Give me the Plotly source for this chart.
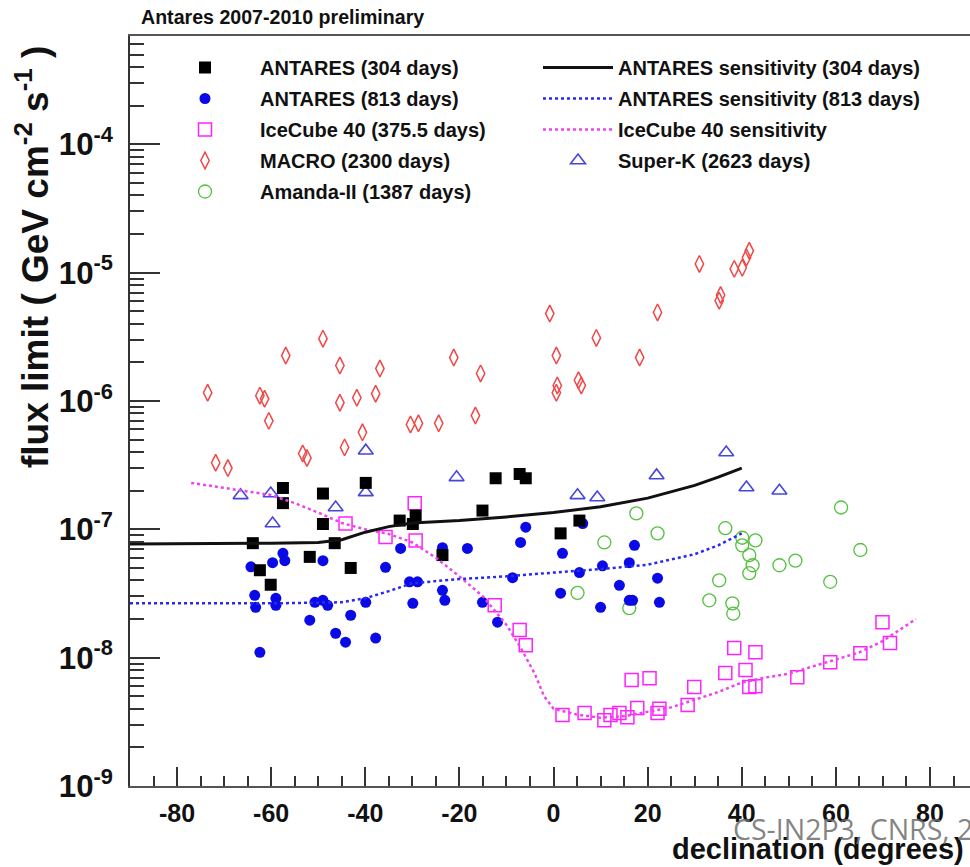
import plotly.graph_objects as go

# ---------------- data ----------------
ant304_dec = [-63.9, -62.4, -60.1, -57.5, -57.5, -51.8, -49.0, -49.0, -46.5, -43.1, -39.9,
              -32.7, -29.9, -29.3, -23.6, -15.1, -12.3, -7.2, -5.9, 1.5, 5.5]
ant304_flux = [7.8e-8, 4.8e-8, 3.7e-8, 2.1e-7, 1.6e-7, 6.1e-8, 1.9e-7, 1.1e-7, 7.8e-8, 5.0e-8, 2.3e-7,
               1.17e-7, 1.1e-7, 1.28e-7, 6.3e-8, 1.4e-7, 2.5e-7, 2.7e-7, 2.5e-7, 9.3e-8, 1.17e-7]

ant813_dec = [-64.3, -59.7, -57.5, -57.1, -63.5, -63.3, -59.0, -59.0, -62.4, -51.8, -50.7, -49.0,
              -48.0, -49.0, -46.3, -44.2, -43.1, -39.9, -37.8, -35.7, -32.5, -30.6, -28.9, -29.9,
              -23.6, -23.6, -18.3, -23.6, -23.1, -15.1, -11.9, -8.7, -7.0, -5.9, 6.2, 1.9, 1.5,
              5.5, 10.4, 16.1, 17.2, 14.0, 16.1, 16.8, 10.0, 22.1, 22.5]
ant813_flux = [5.1e-8, 5.5e-8, 6.5e-8, 5.7e-8, 3.06e-8, 2.47e-8, 2.9e-8, 2.56e-8, 1.1e-8, 1.96e-8,
               2.7e-8, 2.8e-8, 2.56e-8, 5.7e-8, 1.55e-8, 1.32e-8, 2.14e-8, 2.7e-8, 1.42e-8, 5.06e-8,
               7.1e-8, 3.9e-8, 3.9e-8, 2.65e-8, 7.2e-8, 6.6e-8, 7.1e-8, 3.35e-8, 2.8e-8, 2.7e-8,
               1.89e-8, 4.2e-8, 7.9e-8, 1.04e-7, 1.11e-7, 6.5e-8, 3.18e-8, 4.6e-8, 5.2e-8, 5.5e-8,
               7.5e-8, 3.66e-8, 2.8e-8, 2.8e-8, 2.47e-8, 4.16e-8, 2.7e-8]

ic40_dec = [-29.5, -29.3, -35.7, -44.2, -12.5, -7.2, -5.9, 1.9, 6.6, 10.8, 12.1, 14.0, 15.7,
            17.8, 22.1, 22.5, 16.6, 20.4, 28.5, 29.9, 36.5, 38.4, 42.9, 40.8, 41.6, 42.9, 51.8,
            58.8, 65.2, 69.9, 71.5]
ic40_flux = [1.6e-7, 8.2e-8, 8.7e-8, 1.11e-7, 2.56e-8, 1.64e-8, 1.25e-8, 3.57e-9, 3.7e-9, 3.26e-9,
             3.57e-9, 3.7e-9, 3.44e-9, 4.05e-9, 3.7e-9, 4.0e-9, 6.7e-9, 6.9e-9, 4.27e-9, 5.9e-9,
             7.6e-9, 1.19e-8, 1.1e-8, 8.0e-9, 5.9e-9, 6.0e-9, 7.05e-9, 9.2e-9, 1.08e-8, 1.89e-8,
             1.3e-8]

macro_dec = [-73.5, -62.4, -61.4, -60.5, -56.9, -71.8, -69.2, -53.3, -52.4, -49.0, -45.4, -45.4,
             -41.8, -40.6, -44.4, -37.8, -36.9, -30.4, -28.7, -24.4, -21.2, -15.5, -16.6, -0.8,
             0.6, 0.8, 0.6, 5.3, 5.9, 9.1, 18.3, 22.1, 31.0, 35.5, 35.2, 38.4, 40.1, 41.0, 41.6]
macro_flux = [1.16e-6, 1.1e-6, 1.04e-6, 7.0e-7, 2.26e-6, 3.3e-7, 3.0e-7, 3.9e-7, 3.6e-7, 3.06e-6,
              1.89e-6, 9.7e-7, 1.06e-6, 5.7e-7, 4.35e-7, 1.14e-6, 1.79e-6, 6.56e-7, 6.7e-7, 6.7e-7,
              2.18e-6, 1.64e-6, 7.7e-7, 4.8e-6, 2.26e-6, 1.32e-6, 1.16e-6, 1.45e-6, 1.32e-6, 3.1e-6,
              2.18e-6, 4.9e-6, 1.17e-5, 6.7e-6, 6.05e-6, 1.07e-5, 1.09e-5, 1.31e-5, 1.48e-5]

amanda_dec = [17.6, 61.1, 10.8, 22.1, 5.1, 16.1, 36.5, 40.1, 42.9, 41.6, 42.3, 41.6, 35.2, 33.1,
              38.0, 38.2, 48.0, 51.4, 58.8, 65.2, 40.1]
amanda_flux = [1.33e-7, 1.48e-7, 7.9e-8, 9.3e-8, 3.2e-8, 2.43e-8, 1.02e-7, 7.5e-8, 8.2e-8, 6.3e-8,
               5.25e-8, 4.55e-8, 4.0e-8, 2.8e-8, 2.65e-8, 2.2e-8, 5.25e-8, 5.7e-8, 3.9e-8, 6.9e-8,
               8.6e-8]

superk_dec = [-66.5, -60.1, -59.7, -46.3, -39.9, -39.9, -20.6, 5.1, 9.3, 21.9, 36.7, 41.0, 48.0]
superk_flux = [1.84e-7, 1.9e-7, 1.11e-7, 1.48e-7, 4.1e-7, 1.94e-7, 2.54e-7, 1.84e-7, 1.77e-7,
               2.63e-7, 3.97e-7, 2.12e-7, 2.0e-7]

sens304_dec = [-90, -80, -70, -60, -50, -45, -40, -35, -30, -20, -10, 0, 10, 20, 30, 35, 40]
sens304_flux = [7.7e-8, 7.7e-8, 7.7e-8, 7.8e-8, 7.9e-8, 8.3e-8, 9.5e-8, 1.05e-7, 1.12e-7, 1.17e-7,
                1.25e-7, 1.35e-7, 1.5e-7, 1.75e-7, 2.2e-7, 2.55e-7, 3.0e-7]

sens813_dec = [-90, -60, -45, -40, -35, -30, -20, -10, 0, 10, 20, 30, 35, 40]
sens813_flux = [2.65e-8, 2.65e-8, 2.7e-8, 2.9e-8, 3.3e-8, 3.8e-8, 4.1e-8, 4.3e-8, 4.6e-8, 4.9e-8,
                5.3e-8, 6.4e-8, 7.5e-8, 9.3e-8]

icsens_dec = [-77, -70, -60, -55, -50, -45, -40, -35, -30, -25, -20, -15, -10, -7, -4, -2, 0, 5,
              10, 15, 20, 25, 30, 35, 40, 45, 50, 55, 60, 65, 70, 77]
icsens_flux = [2.3e-7, 2.1e-7, 1.85e-7, 1.6e-7, 1.35e-7, 1.12e-7, 1.0e-7, 9.2e-8, 7.9e-8, 6.0e-8,
               4.3e-8, 3.0e-8, 1.8e-8, 1.2e-8, 7.5e-9, 5.0e-9, 4.0e-9, 3.6e-9, 3.4e-9, 3.5e-9,
               3.8e-9, 4.1e-9, 4.7e-9, 5.4e-9, 6.4e-9, 7.0e-9, 7.5e-9, 8.5e-9, 9.7e-9, 1.1e-8,
               1.35e-8, 2.0e-8]

grid_vals = [1e-8, 1e-7, 1e-6, 1e-5]
y_exponents = [-9, -8, -7, -6, -5, -4, -3]
x_ticks = [-80, -60, -40, -20, 20, 40, 60, 80]
y_minor_vals = [m * 10.0 ** e for e in range(-9, -3) for m in range(2, 10)]
x_minor_vals = list(range(-90, 90, 5))

# tick label aliases: replace unicode minus by the hyphen used in the original
MINUS = "\u2212"
y_alias = {"10<sup>%s%d</sup>" % (MINUS, -e): "10<sup>-%d</sup>" % (-e) for e in y_exponents}
x_alias = {"%s%d" % (MINUS, -v): "-%d" % (-v) for v in x_ticks if v < 0}

# ---------------- figure ----------------
W, H = 970, 867
L, R, T, B = 130, 0, 36, 81
pw, ph = W - L - R, H - T - B
def px(x):
    return (x - L) / pw
def py(y):
    return (H - B - y) / ph

FONT = "Liberation Sans"
XR = [-90, 88.5]
YR = [-9, -3.156]
fig = go.Figure()

def scat(x, y, name, legend, rank, **kw):
    fig.add_trace(go.Scatter(x=x, y=y, name=name, legend=legend, legendrank=rank,
                             legendgroup=name, **kw))

scat(macro_dec, macro_flux, "MACRO (2300 days)", "legend", 4, mode="markers",
     marker=dict(symbol="diamond-tall-open", size=12, color="#f04848", line=dict(width=1.5)))
scat(amanda_dec, amanda_flux, "Amanda-II (1387 days)", "legend", 5, mode="markers",
     marker=dict(symbol="circle-open", size=13, color="#55c040", line=dict(width=1.3)))
scat(superk_dec, superk_flux, "Super-K (2623 days)", "legend2", 4, mode="markers",
     marker=dict(symbol="triangle-up-open", size=13, color="#4646dc", line=dict(width=1.6)))
scat(ic40_dec, ic40_flux, "IceCube 40 (375.5 days)", "legend", 3, mode="markers",
     marker=dict(symbol="square-open", size=13, color="#ff22ff", line=dict(width=1.5)))
scat(ant813_dec, ant813_flux, "ANTARES (813 days)", "legend", 2, mode="markers",
     marker=dict(symbol="circle", size=11, color="#0a0ae6"))
scat(ant304_dec, ant304_flux, "ANTARES (304 days)", "legend", 1, mode="markers",
     marker=dict(symbol="square", size=12, color="#000000"))
scat(icsens_dec, icsens_flux, "IceCube 40 sensitivity", "legend2", 3, mode="lines",
     line=dict(color="#ee44ee", width=2.5, dash="dot"))
scat(sens813_dec, sens813_flux, "ANTARES sensitivity (813 days)", "legend2", 2, mode="lines",
     line=dict(color="#2a2aee", width=2.5, dash="dot"))
scat(sens304_dec, sens304_flux, "ANTARES sensitivity (304 days)", "legend2", 1, mode="lines",
     line=dict(color="#111111", width=3))

legfont = dict(family=FONT, size=20, color="#111", weight="bold")
fig.update_layout(
    width=W, height=H,
    margin=dict(l=L, r=R, t=T, b=B, autoexpand=False),
    paper_bgcolor="white", plot_bgcolor="white",
    showlegend=True,
    legend=dict(x=px(150), y=py(48), xanchor="left", yanchor="top", font=legfont,
                itemwidth=100, tracegroupgap=2, bgcolor="rgba(0,0,0,0)", traceorder="grouped"),
    legend2=dict(x=px(538), y=py(48), xanchor="left", yanchor="top", font=legfont,
                 itemwidth=70, tracegroupgap=2, bgcolor="rgba(0,0,0,0)", traceorder="grouped"),
    xaxis=dict(range=XR, dtick=20, tick0=0, labelalias=x_alias, ticks="inside",
               ticklen=19, tickwidth=1.8, tickcolor="#333", showline=True, linecolor="#555",
               linewidth=2, mirror=True, showgrid=False, zeroline=False, ticklabelstandoff=4,
               automargin=False,
               tickfont=dict(family=FONT, size=25, color="#111", weight="bold"),
               minor=dict(dtick=5, tick0=0, ticks="inside", ticklen=10, tickwidth=1.6,
                          tickcolor="#333", showgrid=False)),
    xaxis2=dict(range=XR, overlaying="x", anchor="y", side="bottom", tickvals=x_minor_vals,
                ticks="inside", ticklen=10, tickwidth=1.6, tickcolor="#333",
                showticklabels=False, showgrid=False, zeroline=False, showline=False),
    yaxis=dict(type="log", range=YR, dtick=1, tick0=0, exponentformat="power",
               showexponent="all", labelalias=y_alias,
               ticks="inside", ticklen=30, tickwidth=1.8, tickcolor="#333", showline=True,
               linecolor="#333", linewidth=2, mirror=False, showgrid=False, zeroline=False,
               ticklabelstandoff=10, automargin=False,
               tickfont=dict(family=FONT, size=25, color="#111", weight="bold"),
               minor=dict(dtick="D1", ticks="inside", ticklen=14, tickwidth=1.6,
                          tickcolor="#333", showgrid=False)),
    yaxis2=dict(type="log", range=YR, overlaying="y", tickvals=grid_vals,
                showticklabels=False, ticks="", showgrid=True, gridcolor="#b8b8b8",
                gridwidth=1.6, showline=False, zeroline=False),
    yaxis3=dict(type="log", range=YR, overlaying="y", anchor="x", side="left",
                tickvals=y_minor_vals, ticks="inside", ticklen=14, tickwidth=1.6,
                tickcolor="#333", showticklabels=False, showgrid=False, showline=False,
                zeroline=False),
)

fig.add_annotation(text="Antares 2007-2010 preliminary", xref="paper", yref="paper",
                   x=px(139), y=py(17), xanchor="left", yanchor="middle", showarrow=False,
                   font=dict(family=FONT, size=19.6, color="#111", weight="bold"))
fig.add_annotation(text="flux limit ( GeV cm<sup>-2</sup> s<sup>-1</sup> )", xref="paper",
                   yref="paper", x=px(32), y=py(257), xanchor="center", yanchor="middle",
                   textangle=-90, showarrow=False,
                   font=dict(family=FONT, size=37, color="#111", weight="bold"))
fig.add_annotation(text="declination (degrees)", xref="paper", yref="paper",
                   x=px(966), y=py(849), xanchor="right", yanchor="middle", showarrow=False,
                   font=dict(family=FONT, size=29, color="#111", weight="bold"))
fig.add_annotation(text="CS-IN2P3, CNRS, 2011", xref="paper", yref="paper",
                   x=px(731), y=py(829), xanchor="left", yanchor="middle", showarrow=False,
                   font=dict(family="Open Sans", size=28.5, color="rgba(110,110,110,0.85)"))

fig.write_html("out.html", config={"displayModeBar": False},
               post_script="document.body.style.margin='0px';document.body.style.overflow='hidden';")
